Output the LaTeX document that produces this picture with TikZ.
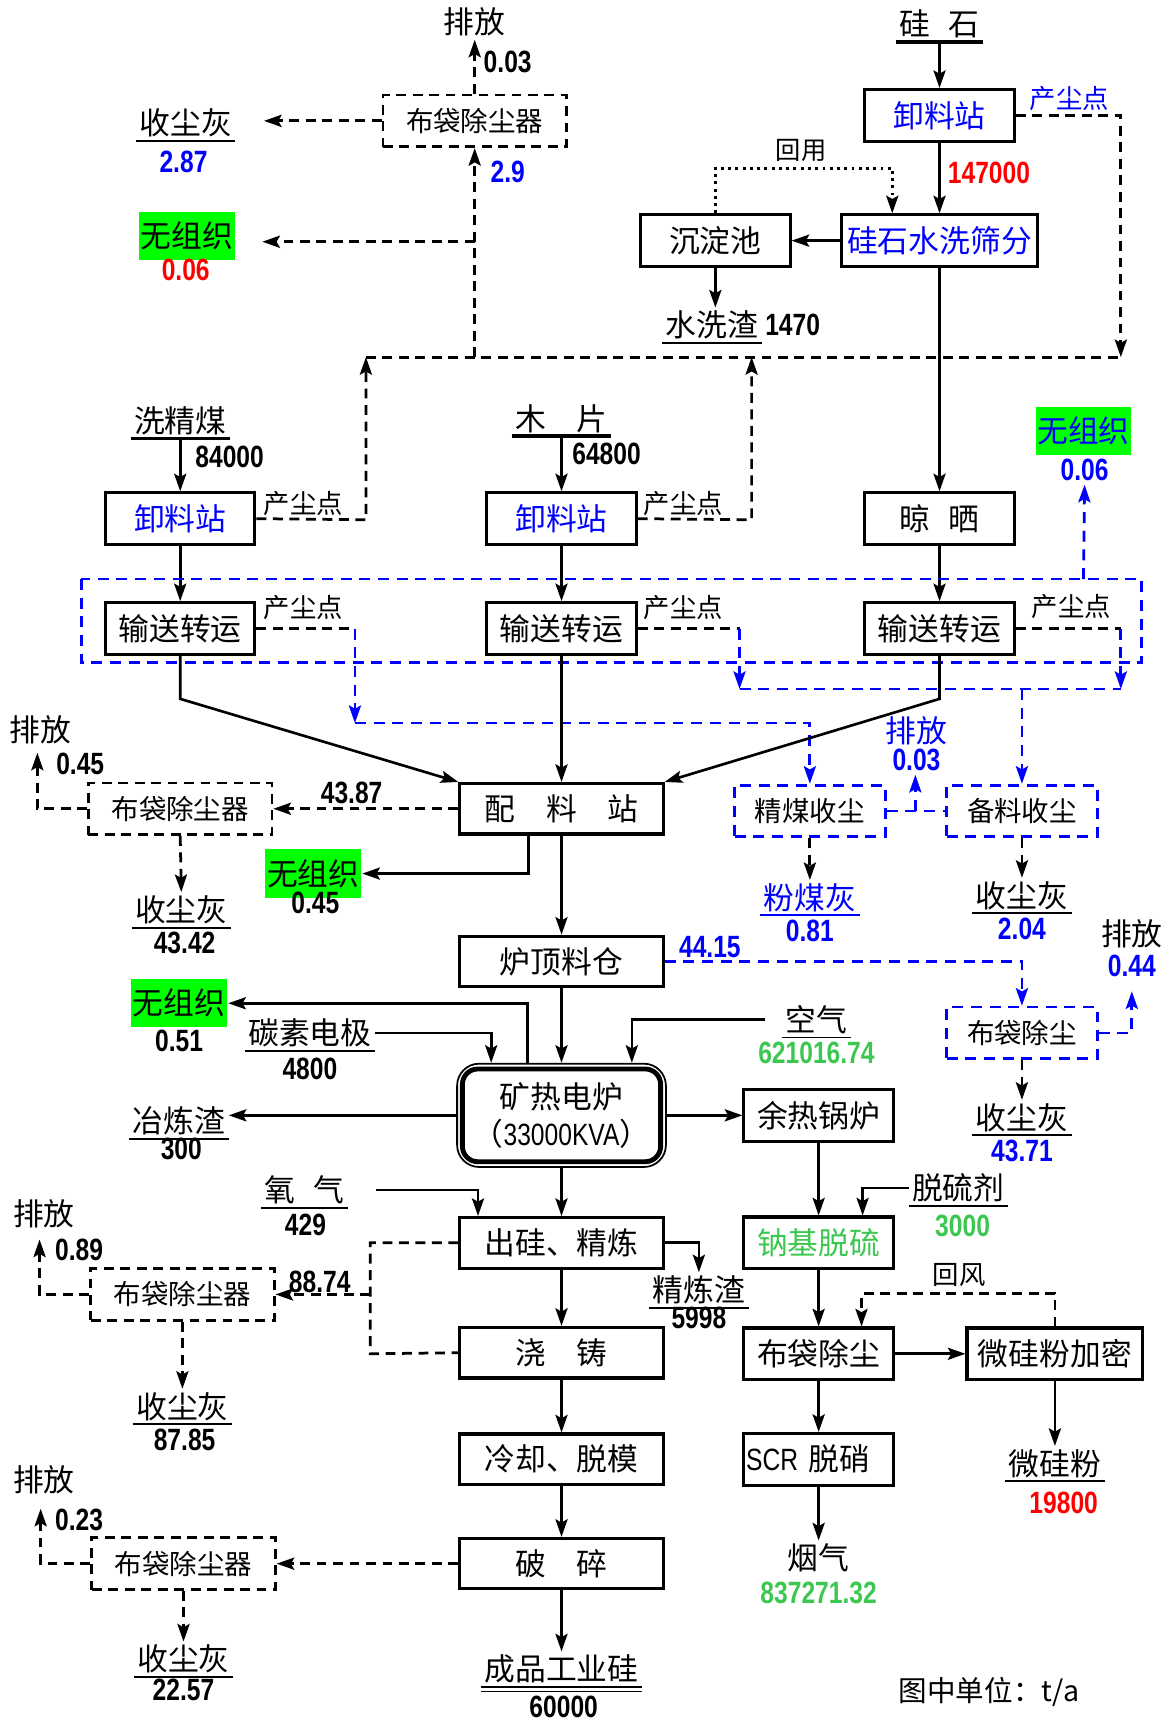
\documentclass[tikz,border=0pt]{standalone}
\usepackage{fontspec}
\setmainfont{Noto Sans CJK SC}
\newfontfamily\numfont[FakeStretch=0.8]{Liberation Sans}
\usetikzlibrary{arrows.meta}
\definecolor{fugfill}{RGB}{0,255,0}
\definecolor{outgreen}{RGB}{60,200,80}
\newcommand{\fsz}[1]{\fontsize{#1}{#1}\selectfont}

\begin{document}
\begin{tikzpicture}[x=0.5pt,y=-0.5pt,>={Stealth[length=8pt,width=5.5pt,inset=1.5pt]},line width=1.2pt,
  dsh/.style={dash pattern=on 4.5pt off 3pt,line width=1.25pt},
  bdsh/.style={dsh,draw=blue,dash pattern=on 5pt off 3.5pt},
  proc/.style={draw,line width=1.4pt,minimum width=68pt,minimum height=23.5pt,inner sep=0pt,font=\fsz{14}},
  wide/.style={proc,minimum width=92.5pt,minimum height=23pt},
  bagbox/.style={draw,dsh,minimum width=83.5pt,minimum height=23.5pt,inner sep=0pt,font=\fsz{12.5}},
  bbag/.style={bagbox,bdsh,minimum width=68.5pt},
  furn/.style={draw,line width=0.8pt,rounded corners=10pt,
    minimum width=95pt,minimum height=47pt,inner sep=0pt,align=center,font=\fontsize{14}{17}\selectfont},
  fug/.style={fill=fugfill,minimum width=43.5pt,minimum height=22pt,inner sep=0pt,font=\fsz{14}},
  lbl/.style={inner sep=1pt,font=\fsz{14}},
  sml/.style={inner sep=1pt,font=\fsz{12}},
  num/.style={inner sep=1pt,font=\numfont\bfseries\fsz{14}},
  ul/.style={lbl,append after command={(\tikzlastnode.south west) edge[line width=0.9pt,#1] (\tikzlastnode.south east)}},
  ul/.default=black,
  tul/.style={lbl,append after command={(\tikzlastnode.south west) edge[line width=1.7pt] (\tikzlastnode.south east)}},
  dul/.style={lbl,append after command={(\tikzlastnode.south west) edge[line width=0.7pt] (\tikzlastnode.south east)
    ([yshift=-2pt]\tikzlastnode.south west) edge[line width=0.7pt] ([yshift=-2pt]\tikzlastnode.south east)}}]
  \fill[white] (0,0) rectangle (1064,1568);
  \useasboundingbox (0,0) rectangle (1064,1568);

  % dust of the unloading stations
  \node[lbl] (em1) at (432,20) {排放};
  \node[num] at (462,56) {0.03};
  \node[bagbox] (bag1) at (432,110) {布袋除尘器};
  \node[num,blue] at (462,156) {2.9};
  \node[ul] (ash1) at (169,112) {收尘灰};
  \node[num,blue] at (167,147) {2.87};
  \node[fug] (fug1) at (170,215) {无组织};
  \node[num,red] at (169,246) {0.06};

  % silica stone
  \node[tul] (si) at (855,22) {硅\hspace{0.6em}石};
  \node[proc,text=blue] (ld3) at (855,105) {卸料站};
  \node[sml,blue] at (973,90) {产尘点};
  \node[num,red] at (900,157) {147000};
  \node[proc,text=blue,minimum width=89pt] (wash) at (855,219) {硅石水洗筛分};
  \node[proc] (pond) at (651,219) {沉淀池};
  \node[sml,font=\fsz{11.5}] at (729,137) {回用};
  \node[ul] (slag0) at (648,296) {水洗渣};
  \node[num,anchor=west] at (slag0.east) {1470};

  \coordinate (tl) at (333,325);
  \coordinate (tm) at (684,325);
  \coordinate (tr) at (1020,325);
  \coordinate (t1) at (432,325);
  \coordinate (cl) at (333,473);
  \coordinate (cm) at (684,473);
  \coordinate (cr) at (1020,105);
  \coordinate (j1) at (432,220);
  \coordinate (ru) at (812,153);

  \draw[->] (si) -- (ld3);
  \draw[->] (ld3) -- (wash);
  \draw[->] (wash) -- (pond);
  \draw[->] (pond.south) -- (pond.south |- slag0.north);
  \draw[dotted,line width=1.3pt,->] (pond.north) |- (ru) -- (ru |- wash.north);

  % coal and wood
  \node[tul] (coal) at (164,383) {洗精煤};
  \node[num] at (209,416) {84000};
  \node[proc,text=blue] (ldL) at (164,472) {卸料站};
  \node[sml] at (276,458) {产尘点};
  \node[proc] (trL) at (164,572) {输送转运};
  \node[sml] at (276,553) {产尘点};

  \node[tul] (wood) at (511,381) {木\quad 片};
  \node[num] at (552,413) {64800};
  \node[proc,text=blue] (ldM) at (511,472) {卸料站};
  \node[sml] at (622,458) {产尘点};
  \node[proc] (trM) at (511,572) {输送转运};
  \node[sml] at (622,553) {产尘点};

  \node[proc] (dry) at (855,472) {晾\hspace{0.6em}晒};
  \node[proc] (trR) at (855,572) {输送转运};
  \node[sml] at (975,552) {产尘点};
  \node[fug,text=blue] (fug2) at (986,392) {无组织};
  \node[num,blue] (fug2v) at (987,428) {0.06};

  \draw[dsh] (tl) -- (tr);
  \draw[dsh,->] (t1) -- (bag1);
  \draw[dsh,->] (bag1) -- (em1);
  \draw[dsh,->,shorten >=13pt] (bag1.west) -- (bag1.west -| ash1.east);
  \draw[dsh,->,shorten >=12pt] (j1) -- (j1 -| fug1.east);
  \draw[dsh,->] (ldL.east) -- (cl) -- (tl);
  \draw[dsh,->] (ldM.east) -- (cm) -- (tm);
  \draw[dsh,->] (ld3.east) -- (cr) -- (tr);

  \draw[->] (coal) -- (ldL);
  \draw[->] (ldL) -- (trL);
  \draw[->] (wood) -- (ldM);
  \draw[->] (ldM) -- (trM);
  \draw[->] (wash) -- (dry);
  \draw[->] (dry) -- (trR);

  % conveying dust
  \draw[bdsh] (74,527) rectangle (1039,603);
  \coordinate (bt) at (986,527);
  \draw[bdsh,->] (bt) -- (fug2v.south);

  \node[bbag] (cc) at (737,738) {精煤收尘};
  \node[bbag] (pc) at (930,738) {备料收尘};
  \node[lbl,blue] (em4) at (834,665) {排放};
  \node[num,blue] (em4v) at (834,692) {0.03};
  \coordinate (d1) at (323,572);
  \coordinate (d2) at (323,658);
  \coordinate (d3) at (737,658);
  \coordinate (d4) at (673,572);
  \coordinate (d5) at (673,627);
  \coordinate (d6) at (1020,627);
  \coordinate (d7) at (1020,572);
  \coordinate (d8) at (930,627);
  \coordinate (d9) at (833,738);
  \draw[dsh] (trL.east) -- (d1);
  \draw[bdsh,->] (d1) -- (d2);
  \draw[bdsh,->] (d2) -- (d3) -- (cc.north);
  \draw[dsh] (trM.east) -- (d4);
  \draw[bdsh,->] (d4) -- (d5);
  \draw[bdsh] (d5) -- (d6);
  \draw[dsh] (trR.east) -- (d7);
  \draw[bdsh,->] (d7) -- (d6);
  \draw[bdsh,->] (d8) -- (pc.north);
  \draw[bdsh] (cc.east) -- (pc.west);
  \draw[bdsh,->] (d9) -- (d9 |- em4v.south);

  \node[ul=blue,text=blue] (pcoal) at (737,817) {粉煤灰};
  \node[num,blue] at (737,847) {0.81};
  \node[ul] (ash4) at (930,815) {收尘灰};
  \node[num,blue] at (930,845) {2.04};
  \draw[dsh,->] (cc.south) -- (pcoal.north);
  \draw[dsh,->] (pc.south) -- (ash4.north);

  % batching
  \node[wide] (mix) at (511,736) {配　料　站};
  \coordinate (k1) at (164,636);
  \coordinate (k2) at (855,636);
  \draw[->] (trL.south) -- (k1) -- (mix.north west);
  \draw[->] (trM) -- (mix);
  \draw[->] (trR.south) -- (k2) -- (mix.north east);

  \node[bagbox] (bag2) at (164,736) {布袋除尘器};
  \node[num] at (320,722) {43.87};
  \node[lbl] (em2) at (37,664) {排放};
  \node[num] at (73,695) {0.45};
  \coordinate (e2) at (34,685);
  \node[ul] (ash2) at (165,828) {收尘灰};
  \node[num] at (168,858) {43.42};
  \node[fug] (fug3) at (285,795) {无组织};
  \node[num] at (287,822) {0.45};
  \draw[dsh,->] (mix.west) -- (bag2.east);
  \draw[dsh,->] (bag2.west) -| (e2);
  \draw[dsh,->] (bag2.south) -- (ash2.north);
  \draw[->] ([xshift=-15pt]mix.south) |- (fug3.east);

  \node[wide] (bin) at (511,875) {炉顶料仓};
  \draw[->] (mix) -- (bin);
  \node[num,blue] at (646,862) {44.15};
  \node[bbag] (bag3) at (930,940) {布袋除尘};
  \node[lbl] (em3) at (1030,850) {排放};
  \node[num,blue] (em3v) at (1030,879) {0.44};
  \node[ul] (ash3) at (930,1017) {收尘灰};
  \node[num,blue] at (930,1047) {43.71};
  \draw[bdsh,->] (bin.east) -| (bag3.north);
  \draw[bdsh,->] (bag3.east) -| ([yshift=-5pt]em3v.south);
  \draw[dsh,->] (bag3.south) -- (ash3.north);

  % smelting
  \node[furn] (furn) at (511,1015) {矿热电炉\\（{\numfont 33000KVA}）};
  \draw[line width=2.2pt,rounded corners=7pt] ([shift={(2.8pt,-2.8pt)}]furn.north west)
    rectangle ([shift={(-2.8pt,2.8pt)}]furn.south east);
  \draw[->] (bin) -- (furn);
  \node[fug] (fug4) at (163,913) {无组织};
  \node[num] at (163,947) {0.51};
  \draw[->] ([xshift=-15.5pt]furn.north) |- (fug4.east);
  \node[ul] (elec) at (282,940) {碳素电极};
  \node[num] at (282,973) {4800};
  \draw[->] (elec.east) -| ([xshift=-32pt]furn.north);
  \node[ul] (air) at (743,928) {空气};
  \node[num,outgreen] at (743,958) {621016.74};
  \draw[->,shorten <=8pt] (air.west) -| ([xshift=32pt]furn.north);
  \node[ul] (slag1) at (163,1020) {冶炼渣};
  \node[num] at (165,1046) {300};
  \draw[->] (furn.west) -- (furn.west -| slag1.east);

  \node[proc] (whb) at (745,1015) {余热锅炉};
  \draw[->] (furn) -- (whb);
  \node[proc,text=outgreen] (desu) at (745,1131) {钠基脱硫};
  \draw[->] (whb) -- (desu);
  \node[ul] (agent) at (872,1081) {脱硫剂};
  \node[num,outgreen] at (876,1116) {3000};
  \draw[->] (agent.west) -| ([xshift=20pt]desu.north);

  \node[wide] (refine) at (511,1131) {出硅、精炼};
  \draw[->] (furn) -- (refine);
  \node[ul] (oxy) at (277,1083) {氧\hspace{0.6em}气};
  \node[num] at (278,1115) {429};
  \draw[->,shorten <=13pt] (oxy.east) -| ([xshift=-38pt]refine.north);
  \node[ul] (slag2) at (636,1174) {精炼渣};
  \node[num] at (636,1199) {5998};
  \draw[->] (refine.east) -| (slag2.north);

  \node[wide] (cast) at (511,1231) {浇　铸};
  \node[wide] (cool) at (511,1328) {冷却、脱模};
  \node[wide] (crush) at (511,1423) {破　碎};
  \node[dul] (prod) at (511,1519) {成品工业硅};
  \node[num] at (513,1553) {60000};
  \draw[->] (refine) -- (cast);
  \draw[->] (cast) -- (cool);
  \draw[->] (cool) -- (crush);
  \draw[->] (crush) -- (prod);

  % casting dust
  \coordinate (f2) at (337,1232);
  \coordinate (f3) at (337,1178);
  \draw[dsh] (refine.west) -| (f2) -- (cast.west);
  \node[bagbox] (bag4) at (166,1178) {布袋除尘器};
  \node[num] at (291,1167) {88.74};
  \node[lbl] (em5) at (40,1105) {排放};
  \node[num] at (72,1137) {0.89};
  \coordinate (e5) at (36,1128);
  \node[ul] (ash5) at (166,1280) {收尘灰};
  \node[num] at (168,1310) {87.85};
  \draw[dsh,->] (f3) -- (bag4.east);
  \draw[dsh,->] (bag4.west) -| (e5);
  \draw[dsh,->] (bag4.south) -- (ash5.north);

  \node[bagbox] (bag5) at (167,1423) {布袋除尘器};
  \node[lbl] (em6) at (40,1347) {排放};
  \node[num] at (72,1383) {0.23};
  \coordinate (e6) at (37,1373);
  \node[ul] (ash6) at (167,1510) {收尘灰};
  \node[num] at (167,1538) {22.57};
  \draw[dsh,->] (crush.west) -- (bag5.east);
  \draw[dsh,->] (bag5.west) -| (e6);
  \draw[dsh,->] (bag5.south) -- (ash6.north);

  % flue gas
  \node[proc] (bagf) at (745,1232) {布袋除尘};
  \draw[->] (desu) -- (bagf);
  \node[proc,minimum width=80pt] (mspd) at (960,1232) {微硅粉加密};
  \draw[->] (bagf) -- (mspd);
  \coordinate (rw) at (784,1177);
  \draw[dsh,->] (mspd.north) |- (rw) -- (rw |- bagf.north);
  \node[sml] at (873,1160) {回风};
  \node[ul] (msp) at (960,1332) {微硅粉};
  \node[num,red] at (968,1368) {19800};
  \draw[->] (mspd) -- (msp);
  \node[proc,text width=66pt,inner xsep=1pt,align=left] (scr) at (745,1328) {{\numfont SCR} 脱硝};
  \draw[->] (bagf) -- (scr);
  \node[lbl] (flue) at (745,1418) {烟气};
  \node[num,outgreen] at (745,1450) {837271.32};
  \draw[->] (scr) -- (flue);

  \node[lbl,font=\fsz{13}] at (900,1540) {图中单位：t/a};
\end{tikzpicture}
\end{document}
